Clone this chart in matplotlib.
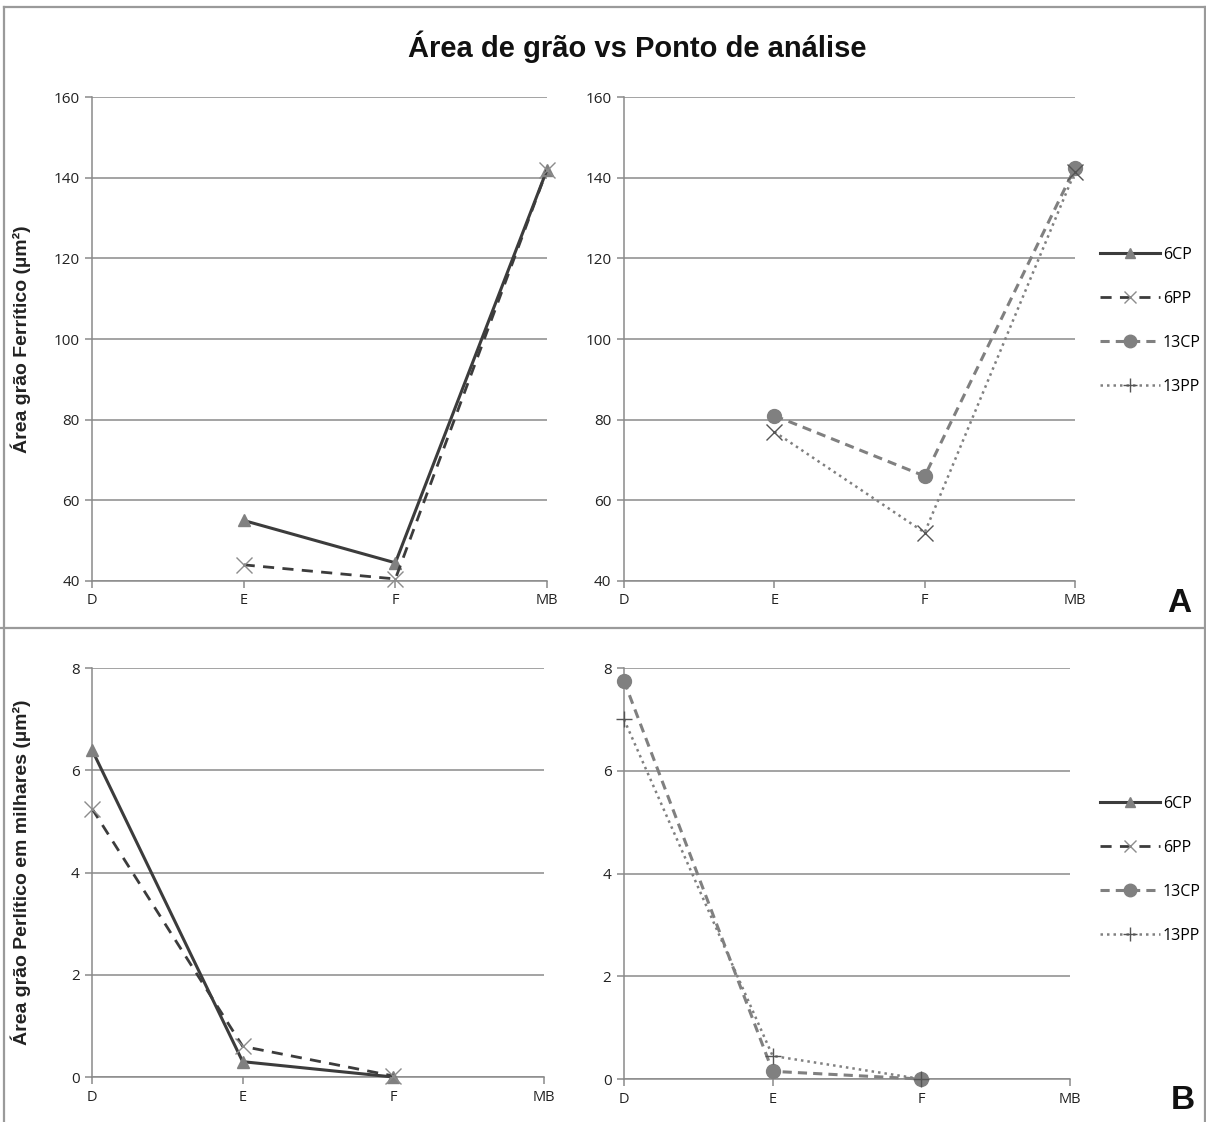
import matplotlib.pyplot as plt
from matplotlib.lines import Line2D

categories = ['D', 'E', 'F', 'MB']

# Área grão Ferrítico (µm²) - D não medido
fer_6cp = [None, 55.0, 44.5, 142.0]
fer_6pp = [None, 44.0, 40.5, 142.0]
fer_13cp = [None, 81.0, 66.0, 142.5]
fer_13pp = [None, 77.0, 52.0, 141.5]

# Área grão Perlítico em milhares (µm²) - MB não medido
per_6cp = [6.4, 0.3, 0.0, None]
per_6pp = [5.25, 0.6, 0.02, None]
per_13cp = [7.75, 0.15, 0.0, None]
per_13pp = [7.0, 0.45, 0.0, None]

series_names = ['6CP', '6PP', '13CP', '13PP']

DARK = '#3c3c3c'
MID = '#808080'
GRID = '#8a8a8a'

styles = {
    '6CP': dict(color=DARK, lw=2.2, ls='-', marker='^', ms=9, mfc=MID, mec=MID),
    '6PP': dict(color=DARK, lw=2.0, ls=(0, (4, 3)), marker='x', ms=11, mec='#8c8c8c', mew=1.0),
    '13CP': dict(color=MID, lw=2.2, ls=(0, (3, 2)), marker='o', ms=10, mfc=MID, mec=MID),
    '13PP': dict(color=MID, lw=1.8, ls=(0, (1, 1.6)), marker='+', ms=12, mec='#555555', mew=1.0),
}

tick_font = 'Open Sans'
label_font = 'Liberation Sans'


def plot_series(ax, values, name, marker=None):
    xs = [i for i, v in enumerate(values) if v is not None]
    ys = [v for v in values if v is not None]
    st = dict(styles[name])
    if marker:
        st['marker'] = marker
    ax.plot(xs, ys, label=name, clip_on=False, zorder=3, **st)


def style_axes(ax, ylim, yticks):
    ax.set_xlim(0, 3)
    ax.set_ylim(*ylim)
    ax.set_yticks(yticks)
    ax.set_xticks(range(len(categories)))
    ax.set_xticklabels(categories, fontfamily=tick_font, fontsize=10.5)
    for lab in ax.get_yticklabels():
        lab.set_fontfamily(tick_font)
        lab.set_fontsize(11)
    ax.yaxis.grid(True, color=GRID, lw=1.1)
    ax.set_axisbelow(True)
    for s in ['top', 'right']:
        ax.spines[s].set_visible(False)
    for s in ['left', 'bottom']:
        ax.spines[s].set_color(GRID)
        ax.spines[s].set_linewidth(1.1)
    ax.tick_params(axis='both', colors=GRID, labelcolor='#222222', length=5, width=1.1, pad=4)


fig = plt.figure(figsize=(12.06, 11.22), dpi=100)

ax1 = fig.add_axes([0.0763, 0.4822, 0.3773, 0.4313])
ax2 = fig.add_axes([0.5174, 0.4822, 0.3740, 0.4313])
ax3 = fig.add_axes([0.0763, 0.0401, 0.3748, 0.3645])
ax4 = fig.add_axes([0.5174, 0.0383, 0.3698, 0.3663])

plot_series(ax1, fer_6cp, '6CP')
plot_series(ax1, fer_6pp, '6PP')
plot_series(ax2, fer_13cp, '13CP')
plot_series(ax2, fer_13pp, '13PP', marker='x')

plot_series(ax3, per_6cp, '6CP')
plot_series(ax3, per_6pp, '6PP')
plot_series(ax4, per_13cp, '13CP')
plot_series(ax4, per_13pp, '13PP')

for ax in (ax1, ax2):
    style_axes(ax, (40, 160), range(40, 161, 20))
for ax in (ax3, ax4):
    style_axes(ax, (0, 8), range(0, 9, 2))

ax1.set_ylabel('Área grão Ferrítico (µm²)', fontfamily=label_font,
               fontweight='bold', fontsize=14, color='#222222')
ax3.set_ylabel('Área grão Perlítico em milhares (µm²)', fontfamily=label_font,
               fontweight='bold', fontsize=14, color='#222222')
ax1.yaxis.set_label_coords(-0.135, 0.5)
ax3.yaxis.set_label_coords(-0.135, 0.5)

fig.text(0.528, 0.958, 'Área de grão vs Ponto de análise', ha='center', va='center',
         fontfamily=label_font, fontweight='bold', fontsize=21, color='#111111')

leg_sizes = {'6CP': 7, '6PP': 9, '13CP': 9, '13PP': 10}
handles = []
for n in series_names:
    st = dict(styles[n])
    st['ms'] = leg_sizes[n]
    handles.append(Line2D([], [], **st))
for y in (0.714, 0.2246):
    fig.legend(handles, series_names, loc='center left', bbox_to_anchor=(0.9, y),
               frameon=False, handlelength=3.8, handletextpad=0.15,
               labelspacing=1.75, prop={'family': tick_font, 'size': 11.5})

fig.text(0.978, 0.462, 'A', ha='center', va='center', fontfamily=label_font,
         fontweight='bold', fontsize=24, color='#111111')
fig.text(0.981, 0.019, 'B', ha='center', va='center', fontfamily=label_font,
         fontweight='bold', fontsize=24, color='#111111')

# moldura e separador
border = dict(color='#9a9a9a', lw=1.6, transform=fig.transFigure)
fig.add_artist(Line2D([0.003, 0.003], [0.0, 0.994], **border))
fig.add_artist(Line2D([0.003, 0.999], [0.994, 0.994], **border))
fig.add_artist(Line2D([0.999, 0.999], [0.0, 0.994], **border))
fig.add_artist(Line2D([0.0, 1.0], [0.440, 0.440], **border))

fig.savefig('out.png', dpi=100)
